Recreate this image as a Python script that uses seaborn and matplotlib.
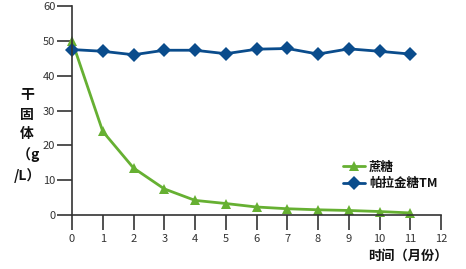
import matplotlib
matplotlib.use("Agg")
import matplotlib.pyplot as plt
import seaborn as sns
import pandas as pd

months = [0, 1, 2, 3, 4, 5, 6, 7, 8, 9, 10, 11]
sucrose = [50, 24, 13.5, 7.5, 4.2, 3.3, 2.3, 1.8, 1.5, 1.3, 1.0, 0.6]
palatinose = [47.5, 47, 46, 47.3, 47.3, 46.3, 47.6, 47.8, 46.2, 47.7, 47.0, 46.2]
series_names = ["蔗糖", "帕拉金糖TM"]
x_ticks = list(range(0, 13))
y_ticks = [0, 10, 20, 30, 40, 50, 60]

sns.set_style("ticks")
plt.rcParams['font.family'] = ['Noto Sans CJK SC', 'DejaVu Sans']

df = pd.DataFrame({
    "month": months * 2,
    "value": sucrose + palatinose,
    "series": [series_names[0]] * len(months) + [series_names[1]] * len(months),
})

fig = plt.figure(figsize=(4.66, 2.69), dpi=100)
ax = fig.add_axes([0.1545, 0.2007, 0.792, 0.777])

green = "#66b032"
blue = "#0a4c8c"
sns.lineplot(data=df, x="month", y="value", hue="series", style="series",
             palette={series_names[0]: green, series_names[1]: blue},
             markers={series_names[0]: "^", series_names[1]: "D"},
             dashes=False, markersize=7, linewidth=2, markeredgewidth=0,
             ax=ax, legend=True)

ax.set_xlim(0, 12)
ax.set_ylim(0, 60)
ax.set_xticks(x_ticks)
ax.set_yticks(y_ticks)
ax.set_xlabel("")
ax.set_ylabel("")
for s in ["top", "right"]:
    ax.spines[s].set_visible(False)
for s in ["left", "bottom"]:
    ax.spines[s].set_color("#333333")
    ax.spines[s].set_linewidth(1.2)
ax.tick_params(axis="both", colors="#333333", labelsize=8, length=11, width=1.2, direction="out")
ax.tick_params(axis="x", pad=3)
ax.tick_params(axis="y", pad=1)
for lab in ax.get_xticklabels() + ax.get_yticklabels():
    lab.set_color("#333333")
for line in ax.lines:
    line.set_clip_on(False)

leg = ax.legend(loc="upper left", bbox_to_anchor=(0.72, 0.285), frameon=False,
                fontsize=9, handlelength=1.8, handletextpad=0.3, labelspacing=0.3,
                borderaxespad=0)
for t in leg.get_texts():
    t.set_fontweight("bold")
    t.set_color("#111111")

fig.text(0.058, 0.495, "干\n固\n体\n （g\n/L）", ha="center", va="center",
         fontsize=10, fontweight="bold", linespacing=1.5, color="#111111")
fig.text(0.96, 0.05, "时间（月份）", ha="right", va="center",
         fontsize=9.5, fontweight="bold", color="#111111")

fig.savefig("out.png", dpi=100)
